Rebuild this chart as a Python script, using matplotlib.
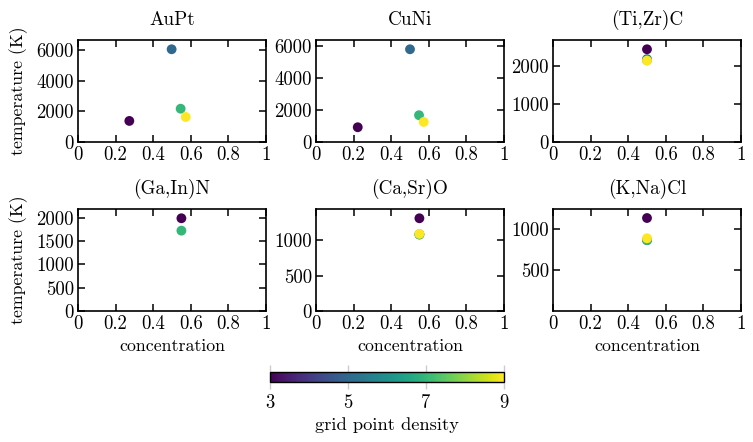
import numpy as np
import matplotlib
matplotlib.use("Agg")
import matplotlib.pyplot as plt
from matplotlib.ticker import FuncFormatter

plt.rcParams['font.family'] = ['cmr10', 'DejaVu Serif']
plt.rcParams['axes.formatter.use_mathtext'] = True
plt.rcParams['mathtext.fontset'] = 'cm'
plt.rcParams['font.size'] = 13.5
plt.rcParams['axes.titlesize'] = 13.8
plt.rcParams['axes.labelsize'] = 12.8

systems = ["AuPt", "CuNi", "(Ti,Zr)C", "(Ga,In)N", "(Ca,Sr)O", "(K,Na)Cl"]
cb_ticks = [3, 5, 7, 9]

# grid point density, concentration and temperature per system
density = {
    "AuPt":     [3, 5, 7, 9],
    "CuNi":     [3, 5, 7, 9],
    "(Ti,Zr)C": [3, 5, 7, 9],
    "(Ga,In)N": [3, 7],
    "(Ca,Sr)O": [3, 5, 7, 9],
    "(K,Na)Cl": [3, 5, 7, 9],
}
conc = {
    "AuPt":     [0.273, 0.498, 0.546, 0.573],
    "CuNi":     [0.222, 0.500, 0.548, 0.573],
    "(Ti,Zr)C": [0.500, 0.500, 0.500, 0.500],
    "(Ga,In)N": [0.550, 0.550],
    "(Ca,Sr)O": [0.550, 0.550, 0.550, 0.550],
    "(K,Na)Cl": [0.500, 0.500, 0.500, 0.500],
}
temp = {
    "AuPt":     [1380, 6070, 2180, 1640],
    "CuNi":     [920, 5780, 1670, 1250],
    "(Ti,Zr)C": [2450, 2190, 2160, 2150],
    "(Ga,In)N": [1985, 1720],
    "(Ca,Sr)O": [1311, 1085, 1080, 1090],
    "(K,Na)Cl": [1140, 870, 870, 893],
}
yticks = {
    "AuPt": [0, 2000, 4000, 6000],
    "CuNi": [0, 2000, 4000, 6000],
    "(Ti,Zr)C": [0, 1000, 2000],
    "(Ga,In)N": [0, 500, 1000, 1500, 2000],
    "(Ca,Sr)O": [0, 500, 1000],
    "(K,Na)Cl": [500, 1000],
}
xticks = [0, 0.2, 0.4, 0.6, 0.8, 1]

W, H = 753, 442
fig = plt.figure(figsize=(W/100, H/100), dpi=100)

lefts = [78, 316, 553]
tops = [40, 209]
aw, ah = 188, 102

def fmt(v, pos):
    return "%g" % v

for i, name in enumerate(systems):
    r, c = divmod(i, 3)
    ax = fig.add_axes([lefts[c]/W, 1-(tops[r]+ah)/H, aw/W, ah/H])
    sc = ax.scatter(conc[name], temp[name], c=density[name], cmap="viridis",
                    vmin=3, vmax=9, s=50, edgecolors="none", zorder=3)
    ax.set_xlim(0, 1)
    if name == "(K,Na)Cl":
        ax.set_ylim(5, 1250)
    else:
        ax.set_ylim(0, 1.1*max(temp[name]))
    ax.set_xticks(xticks)
    ax.set_yticks(yticks[name])
    ax.xaxis.set_major_formatter(FuncFormatter(fmt))
    ax.yaxis.set_major_formatter(FuncFormatter(fmt))
    ax.tick_params(direction="in", top=True, right=True, length=5, width=1.1, pad=3)
    for sp in ax.spines.values():
        sp.set_linewidth(1.2)
    ax.set_title(name, pad=11)
    if c == 0:
        ax.set_ylabel("temperature (K)", labelpad=6)
    if r == 1:
        ax.set_xlabel("concentration")

cax = fig.add_axes([270/W, 1-382/H, 234/W, 10/H])
cb = fig.colorbar(sc, cax=cax, orientation="horizontal")
cb.set_ticks(cb_ticks)
cb.ax.tick_params(direction="out", top=True, bottom=True, length=5, color="#cccccc", width=1)
cb.outline.set_linewidth(1.0)
cb.set_label("grid point density", fontsize=13.3)

fig.savefig("out.png", dpi=100)
